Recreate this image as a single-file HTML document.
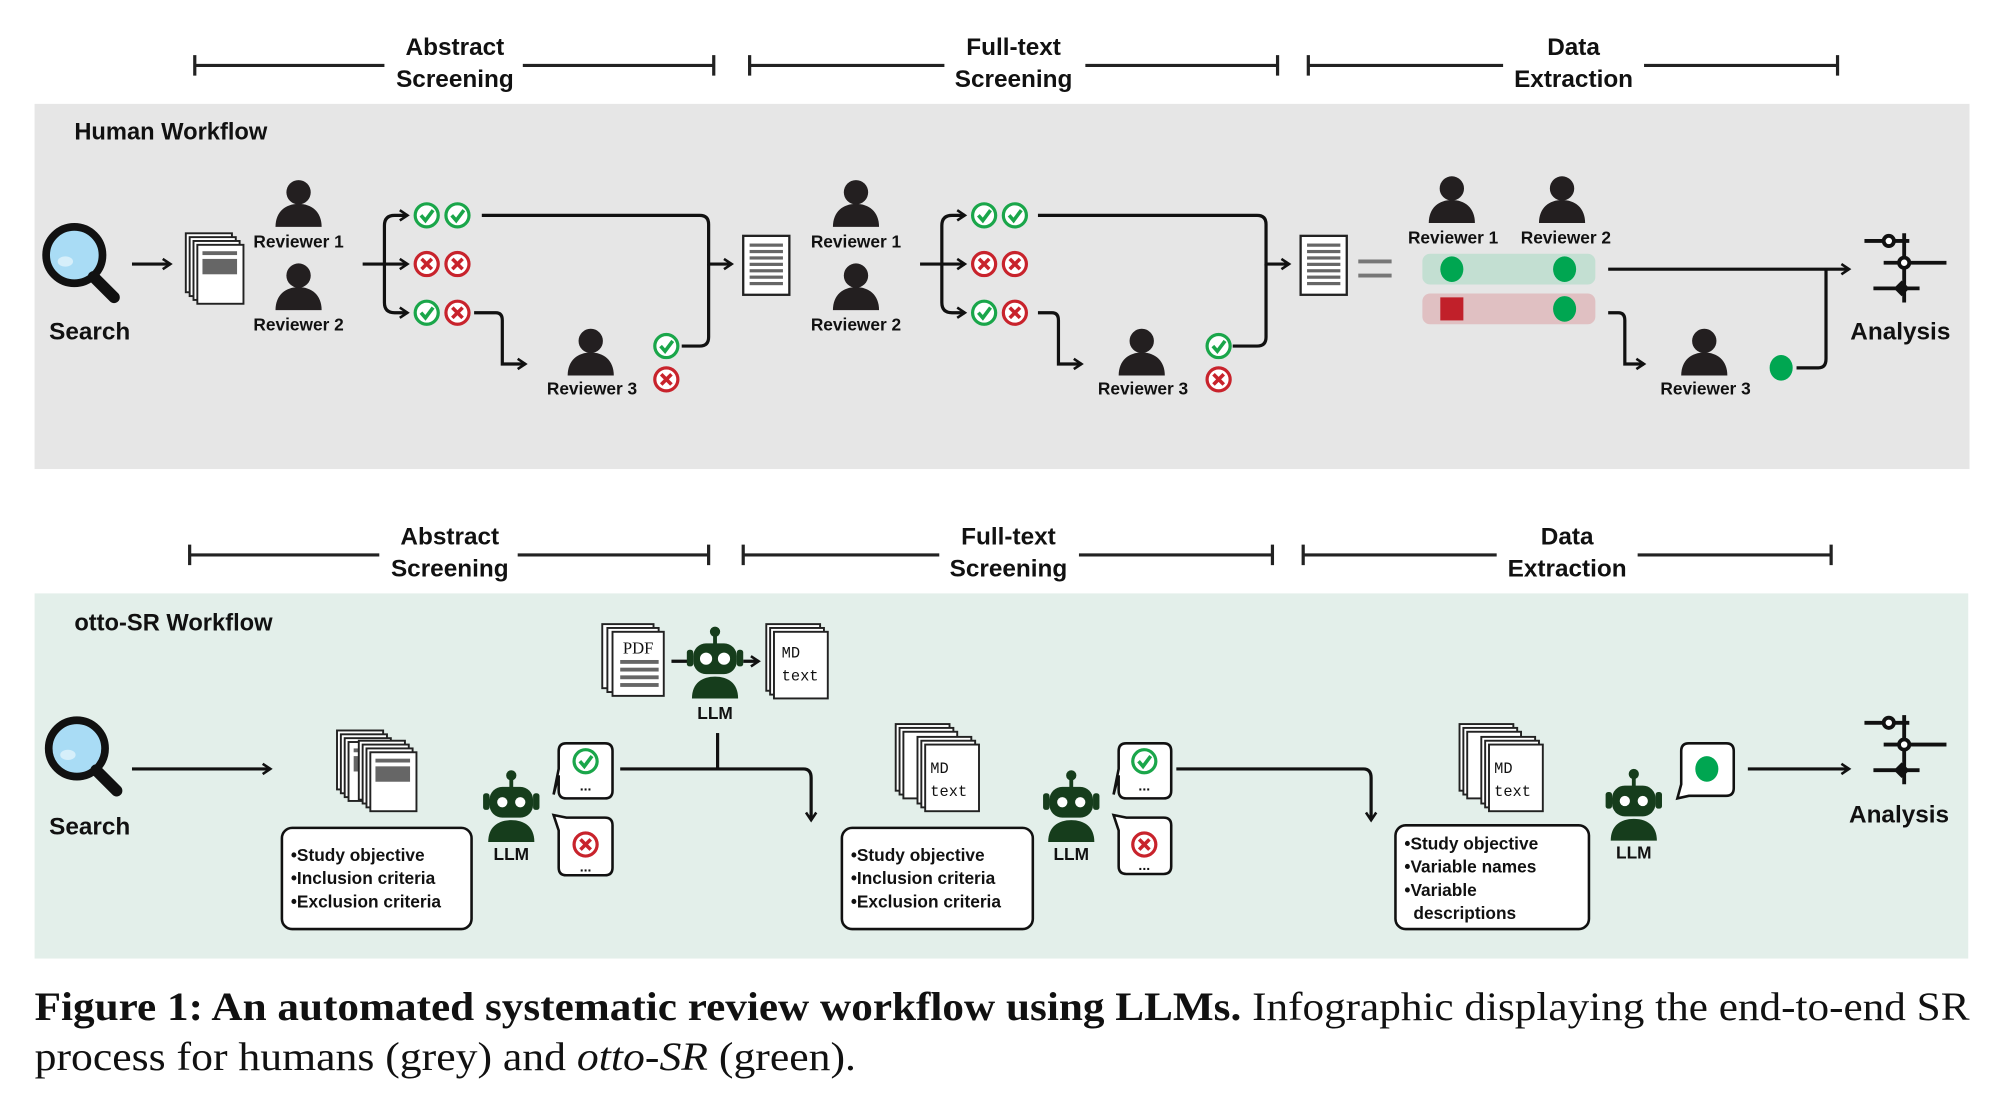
<!DOCTYPE html>
<html><head><meta charset="utf-8"><style>
html,body{margin:0;padding:0;background:#fff;}
svg{display:block;}
text{font-family:"Liberation Sans",Arial,sans-serif;font-weight:bold;fill:#111;}
text.cap{font-family:"Liberation Serif",serif;font-weight:normal;fill:#111;}
text.mono{font-family:"Liberation Mono",monospace;font-weight:normal;}
text.serif{font-family:"Liberation Serif",serif;font-weight:normal;}
</style></head><body>
<svg width="1999" height="1106" viewBox="0 0 1560 863" xmlns="http://www.w3.org/2000/svg">
<defs>
<marker id="ar" markerWidth="10" markerHeight="10" refX="8" refY="5" orient="auto" markerUnits="userSpaceOnUse">
<path d="M2,1 L8,5 L2,9" fill="none" stroke="#111" stroke-width="2"/></marker>
<g id="person"><circle cx="0" cy="-27" r="9.5" fill="#231f20"/><path d="M-18,0 C-18,-12 -10,-18 0,-18 C10,-18 18,-12 18,0 Z" fill="#231f20"/></g>
<g id="chk"><circle r="9" fill="#fff" stroke="#1aa64a" stroke-width="2.5"/><path d="M-4.5,0 L-1,4 L5,-4" fill="none" stroke="#1aa64a" stroke-width="2.8"/></g>
<g id="crs"><circle r="9" fill="#fff" stroke="#c8232c" stroke-width="2.5"/><path d="M-4,-4 L4,4 M4,-4 L-4,4" stroke="#c8232c" stroke-width="2.8"/></g>
<g id="mag"><circle cx="0" cy="0" r="22" fill="#a9dcf5" stroke="#111" stroke-width="6"/><ellipse cx="-7" cy="5" rx="6" ry="4" fill="#d6effa"/><path d="M15,17 L31,33" stroke="#111" stroke-width="9" stroke-linecap="round"/></g>
<g id="docs"><rect x="0" y="0" width="36" height="46" fill="#fff" stroke="#222" stroke-width="1.5"/><rect x="3" y="3" width="36" height="46" fill="#fff" stroke="#222" stroke-width="1.5"/><rect x="6" y="6" width="36" height="46" fill="#fff" stroke="#222" stroke-width="1.5"/><rect x="9" y="9" width="36" height="46" fill="#fff" stroke="#222" stroke-width="1.5"/><rect x="13" y="14" width="27" height="3" fill="#666"/><rect x="13" y="20" width="27" height="12" fill="#666"/></g>
<g id="list"><rect x="0" y="0" width="36" height="46" fill="#fff" stroke="#222" stroke-width="1.8"/><g fill="#666"><rect x="5" y="6" width="26" height="2.5"/><rect x="5" y="11" width="26" height="2.5"/><rect x="5" y="16" width="26" height="2.5"/><rect x="5" y="21" width="26" height="2.5"/><rect x="5" y="26" width="26" height="2.5"/><rect x="5" y="31" width="26" height="2.5"/><rect x="5" y="36" width="26" height="2.5"/></g></g>
<g id="robot" fill="#163d1c"><circle cx="0" cy="-52" r="4"/><rect x="-1.5" y="-50" width="3" height="8"/><rect x="-17" y="-43" width="34" height="24" rx="10"/><rect x="-22" y="-38" width="5" height="13" rx="2"/><rect x="17" y="-38" width="5" height="13" rx="2"/><circle cx="-7" cy="-31" r="4" fill="#fff"/><circle cx="7" cy="-31" r="4" fill="#fff"/><path d="M-18,0 C-18,-12 -10,-17 0,-17 C10,-17 18,-12 18,0 Z"/></g>
<g id="analysis" stroke="#111" stroke-width="3" fill="none"><path d="M0,0 V54"/><path d="M-31,6 H4"/><circle cx="-12" cy="6" r="4" fill="#fff"/><path d="M-16,23 H33"/><circle cx="0" cy="23" r="4" fill="#fff"/><path d="M-24,43 H12"/><path d="M-6,43 l4,-4 l4,4 l-4,4z" fill="#111"/></g>
<g id="md"><rect x="0" y="0" width="42" height="52" fill="#fff" stroke="#222" stroke-width="1.5"/><rect x="3" y="3" width="42" height="52" fill="#fff" stroke="#222" stroke-width="1.5"/><rect x="6" y="6" width="42" height="52" fill="#fff" stroke="#222" stroke-width="1.5"/></g>
</defs>

<!-- headers -->
<g stroke="#222" stroke-width="2.5">
<path d="M152,51 H300 M408,51 H557 M152,43 V59 M557,43 V59"/>
<path d="M585,51 H737 M847,51 H997 M585,43 V59 M997,43 V59"/>
<path d="M1021,51 H1173 M1283,51 H1434 M1021,43 V59 M1434,43 V59"/>
<path d="M148,433 H296 M404,433 H553 M148,425 V441 M553,425 V441"/>
<path d="M580,433 H733 M842,433 H993 M580,425 V441 M993,425 V441"/>
<path d="M1017,433 H1168 M1278,433 H1429 M1017,425 V441 M1429,425 V441"/>
</g>
<g font-size="19" text-anchor="middle">
<text x="355" y="43">Abstract</text><text x="355" y="68">Screening</text>
<text x="791" y="43">Full-text</text><text x="791" y="68">Screening</text>
<text x="1228" y="43">Data</text><text x="1228" y="68">Extraction</text>
<text x="351" y="425">Abstract</text><text x="351" y="450">Screening</text>
<text x="787" y="425">Full-text</text><text x="787" y="450">Screening</text>
<text x="1223" y="425">Data</text><text x="1223" y="450">Extraction</text>
</g>

<!-- Human panel -->
<rect x="27" y="81" width="1510" height="285" fill="#e6e6e6"/>
<text x="58" y="109" font-size="18.5">Human Workflow</text>
<use href="#mag" x="58" y="199"/>
<text x="70" y="265" font-size="19" text-anchor="middle">Search</text>
<g stroke="#111" stroke-width="2.5" fill="none">
<path d="M103,206 H133" marker-end="url(#ar)"/>
<path d="M283,206 H318" marker-end="url(#ar)"/>
<path d="M300,206 V176 Q300,168 308,168 H318" marker-end="url(#ar)"/>
<path d="M300,206 V236 Q300,244 308,244 H318" marker-end="url(#ar)"/>
<path d="M376,168 H546 Q553,168 553,175 V206 H571" marker-end="url(#ar)"/>
<path d="M532,270 H546 Q553,270 553,263 V206"/>
<path d="M370,244 H387 Q392,244 392,250 V284 H410" marker-end="url(#ar)"/>
<path d="M718,206 H753" marker-end="url(#ar)"/>
<path d="M735,206 V176 Q735,168 743,168 H753" marker-end="url(#ar)"/>
<path d="M735,206 V236 Q735,244 743,244 H753" marker-end="url(#ar)"/>
<path d="M810,168 H981 Q988,168 988,175 V206 H1006" marker-end="url(#ar)"/>
<path d="M962,270 H981 Q988,270 988,263 V206"/>
<path d="M810,244 H821 Q826,244 826,250 V284 H844" marker-end="url(#ar)"/>
<path d="M1255,210 H1443" marker-end="url(#ar)"/>
<path d="M1255,244 H1263 Q1268,244 1268,250 V284 H1283" marker-end="url(#ar)"/>
<path d="M1402,287 H1419 Q1425,287 1425,280 V210"/>
</g>
<use href="#docs" x="145" y="182"/>
<use href="#person" x="233" y="177"/><text x="233" y="193" font-size="13.5" text-anchor="middle">Reviewer 1</text>
<use href="#person" x="233" y="242"/><text x="233" y="258" font-size="13.5" text-anchor="middle">Reviewer 2</text>
<use href="#chk" x="333" y="168"/><use href="#chk" x="357" y="168"/>
<use href="#crs" x="333" y="206"/><use href="#crs" x="357" y="206"/>
<use href="#chk" x="333" y="244"/><use href="#crs" x="357" y="244"/>
<use href="#person" x="461" y="293"/><text x="462" y="308" font-size="13.5" text-anchor="middle">Reviewer 3</text>
<use href="#chk" x="520" y="270"/><use href="#crs" x="520" y="296"/>
<use href="#list" x="580" y="184"/>
<use href="#person" x="668" y="177"/><text x="668" y="193" font-size="13.5" text-anchor="middle">Reviewer 1</text>
<use href="#person" x="668" y="242"/><text x="668" y="258" font-size="13.5" text-anchor="middle">Reviewer 2</text>
<use href="#chk" x="768" y="168"/><use href="#chk" x="792" y="168"/>
<use href="#crs" x="768" y="206"/><use href="#crs" x="792" y="206"/>
<use href="#chk" x="768" y="244"/><use href="#crs" x="792" y="244"/>
<use href="#person" x="891" y="293"/><text x="892" y="308" font-size="13.5" text-anchor="middle">Reviewer 3</text>
<use href="#chk" x="951" y="270"/><use href="#crs" x="951" y="296"/>
<use href="#list" x="1015" y="184"/>
<path d="M1060,204 H1086 M1060,215 H1086" stroke="#777" stroke-width="3"/>
<use href="#person" x="1133" y="174"/><text x="1134" y="190" font-size="13.5" text-anchor="middle">Reviewer 1</text>
<use href="#person" x="1219" y="174"/><text x="1222" y="190" font-size="13.5" text-anchor="middle">Reviewer 2</text>
<rect x="1110" y="198" width="135" height="24" rx="6" fill="#c3dfd2"/>
<ellipse cx="1133" cy="210" rx="9" ry="10" fill="#00a651"/><ellipse cx="1221" cy="210" rx="9" ry="10" fill="#00a651"/>
<rect x="1110" y="229" width="135" height="24" rx="6" fill="#e0c0c2"/>
<rect x="1124" y="232" width="18" height="18" fill="#c1202a"/><ellipse cx="1221" cy="241" rx="9" ry="10" fill="#00a651"/>
<use href="#person" x="1330" y="293"/><text x="1331" y="308" font-size="13.5" text-anchor="middle">Reviewer 3</text>
<ellipse cx="1390" cy="287" rx="9" ry="10" fill="#00a651"/>
<use href="#analysis" x="1486" y="182"/>
<text x="1483" y="265" font-size="19" text-anchor="middle">Analysis</text>

<!-- otto panel -->
<rect x="27" y="463" width="1509" height="285" fill="#e3efea"/>
<text x="58" y="492" font-size="18.5">otto-SR Workflow</text>
<use href="#mag" x="60" y="584"/>
<text x="70" y="651" font-size="19" text-anchor="middle">Search</text>
<g stroke="#111" stroke-width="2.5" fill="none">
<path d="M103,600 H211" marker-end="url(#ar)"/>
<path d="M484,600 H627 Q633,600 633,607 V640" marker-end="url(#ar)"/>
<path d="M560,572 V600"/>
<path d="M918,600 H1064 Q1070,600 1070,607 V640" marker-end="url(#ar)"/>
<path d="M1364,600 H1443" marker-end="url(#ar)"/>
<path d="M524,516 H538 M580,516 H592" marker-end="url(#ar)"/>
</g>
<use href="#docs" x="263" y="570"/><use href="#docs" x="280" y="578"/>
<rect x="220" y="646" width="148" height="79" rx="8" fill="#fff" stroke="#111" stroke-width="2"/>
<g font-size="13.5"><text x="227" y="672">•Study objective</text><text x="227" y="690">•Inclusion criteria</text><text x="227" y="708">•Exclusion criteria</text></g>
<use href="#robot" x="399" y="657"/><text x="399" y="671" font-size="13.5" text-anchor="middle">LLM</text>
<path d="M442,580 H472 Q478,580 478,586 V617 Q478,623 472,623 H442 Q436,623 436,617 V605 L432,620 L436,600 V586 Q436,580 442,580Z" fill="#fff" stroke="#111" stroke-width="2"/>
<use href="#chk" x="457" y="594"/><text x="457" y="617" font-size="11" text-anchor="middle">...</text>
<path d="M442,683 H472 Q478,683 478,677 V644 Q478,638 472,638 H442 L432,636 L436,648 V677 Q436,683 442,683Z" fill="#fff" stroke="#111" stroke-width="2"/>
<use href="#crs" x="457" y="659"/><text x="457" y="680" font-size="11" text-anchor="middle">...</text>
<!-- PDF -> LLM -> MD -->
<rect x="470" y="487" width="40" height="50" fill="#fff" stroke="#222" stroke-width="1.5"/>
<rect x="474" y="490" width="40" height="50" fill="#fff" stroke="#222" stroke-width="1.5"/>
<rect x="478" y="493" width="40" height="50" fill="#fff" stroke="#222" stroke-width="1.5"/>
<text class="serif" x="498" y="510" font-size="13" text-anchor="middle">PDF</text>
<g fill="#666"><rect x="484" y="515" width="30" height="3"/><rect x="484" y="521" width="30" height="3"/><rect x="484" y="527" width="30" height="3"/><rect x="484" y="533" width="30" height="3"/></g>
<use href="#robot" x="558" y="545"/>
<g fill="none" stroke="#fff" stroke-width="1.5"><circle cx="551" cy="514" r="4"/><circle cx="565" cy="514" r="4"/></g>
<text x="558" y="561" font-size="13.5" text-anchor="middle">LLM</text>
<use href="#md" x="598" y="487"/>
<text class="mono" x="610" y="513" font-size="12">MD</text><text class="mono" x="610" y="531" font-size="12">text</text>
<!-- full-text -->
<use href="#md" x="699" y="565"/><use href="#md" x="716" y="575"/>
<text class="mono" x="726" y="603" font-size="12">MD</text><text class="mono" x="726" y="621" font-size="12">text</text>
<rect x="657" y="646" width="149" height="79" rx="8" fill="#fff" stroke="#111" stroke-width="2"/>
<g font-size="13.5"><text x="664" y="672">•Study objective</text><text x="664" y="690">•Inclusion criteria</text><text x="664" y="708">•Exclusion criteria</text></g>
<use href="#robot" x="836" y="657"/><text x="836" y="671" font-size="13.5" text-anchor="middle">LLM</text>
<path d="M879,580 H908 Q914,580 914,586 V617 Q914,623 908,623 H879 Q873,623 873,617 V605 L869,620 L873,600 V586 Q873,580 879,580Z" fill="#fff" stroke="#111" stroke-width="2"/>
<use href="#chk" x="893" y="594"/><text x="893" y="617" font-size="11" text-anchor="middle">...</text>
<path d="M879,682 H908 Q914,682 914,676 V644 Q914,638 908,638 H879 L869,636 L873,648 V676 Q873,682 879,682Z" fill="#fff" stroke="#111" stroke-width="2"/>
<use href="#crs" x="893" y="659"/><text x="893" y="679" font-size="11" text-anchor="middle">...</text>
<!-- data -->
<use href="#md" x="1139" y="565"/><use href="#md" x="1156" y="575"/>
<text class="mono" x="1166" y="603" font-size="12">MD</text><text class="mono" x="1166" y="621" font-size="12">text</text>
<rect x="1089" y="644" width="151" height="81" rx="8" fill="#fff" stroke="#111" stroke-width="2"/>
<g font-size="13.5"><text x="1096" y="663">•Study objective</text><text x="1096" y="681">•Variable names</text><text x="1096" y="699">•Variable</text><text x="1103" y="717">descriptions</text></g>
<use href="#robot" x="1275" y="656"/>
<text x="1275" y="670" font-size="13.5" text-anchor="middle">LLM</text>
<path d="M1318,580 H1347 Q1353,580 1353,586 V615 Q1353,621 1347,621 H1318 L1309,623 L1312,612 V586 Q1312,580 1318,580Z" fill="#fff" stroke="#111" stroke-width="2"/>
<ellipse cx="1332" cy="600" rx="9" ry="10" fill="#00a651"/>
<use href="#analysis" x="1486" y="558"/>
<text x="1482" y="642" font-size="19" text-anchor="middle">Analysis</text>

<!-- caption -->
<text class="cap" x="27" y="796" font-size="31" textLength="1510" lengthAdjust="spacingAndGlyphs"><tspan font-weight="bold">Figure 1: An automated systematic review workflow using LLMs.</tspan> Infographic displaying the end-to-end SR</text>
<text class="cap" x="27" y="835" font-size="31" textLength="641" lengthAdjust="spacingAndGlyphs">process for humans (grey) and <tspan font-style="italic">otto-SR</tspan> (green).</text>
</svg>
</body></html>
